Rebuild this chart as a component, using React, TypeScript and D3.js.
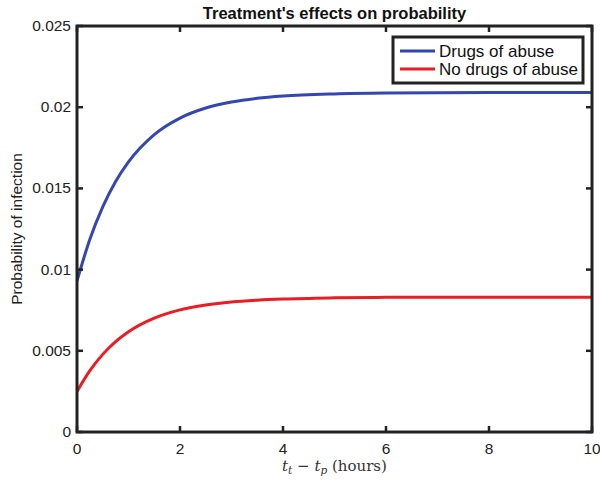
import React from "react";
import * as d3 from "d3";

const timeHours = [0, 0.25, 0.5, 0.75, 1, 1.5, 2, 2.5, 3, 3.5, 4, 5, 6, 8, 10];
const drugsOfAbuse = [0.0093, 0.01187, 0.01386, 0.01542, 0.01663, 0.01831, 0.01933, 0.01995, 0.02032, 0.02055, 0.02069, 0.02082, 0.02087, 0.0209, 0.0209];
const noDrugsOfAbuse = [0.0025, 0.00378, 0.00478, 0.00556, 0.00617, 0.00701, 0.00752, 0.00782, 0.00801, 0.00812, 0.00819, 0.00826, 0.00829, 0.0083, 0.0083];
const xTicks = [0, 2, 4, 6, 8, 10];
const yTicks = [0, 0.005, 0.01, 0.015, 0.02, 0.025];
const yTickLabels = ["0", "0.005", "0.01", "0.015", "0.02", "0.025"];
const seriesNames = ["Drugs of abuse", "No drugs of abuse"];
const seriesColors = ["#3446b0", "#ea1c24"];

const W = 600, H = 481;
const L = 77, R = 592, T = 26, B = 432;

export default function App() {
  const x = d3.scaleLinear().domain([0, 10]).range([L, R]);
  const y = d3.scaleLinear().domain([0, 0.025]).range([B, T]);
  const line = d3
    .line<[number, number]>()
    .x((d) => x(d[0]))
    .y((d) => y(d[1]))
    .curve(d3.curveMonotoneX);
  const series = [drugsOfAbuse, noDrugsOfAbuse];
  const font = "'Liberation Sans', Arial, Helvetica, sans-serif";
  const tickLen = 6;
  return (
    <svg width={W} height={H} style={{ position: "absolute", left: 0, top: 0, background: "#fff" }} fontFamily={font}>
      <rect x={0} y={0} width={W} height={H} fill="#fff" />
      <defs>
        <clipPath id="plot">
          <rect x={L} y={T} width={R - L} height={B - T} />
        </clipPath>
      </defs>
      {series.map((vals, i) => (
        <path
          key={i}
          d={line(timeHours.map((t, j) => [t, vals[j]] as [number, number])) || ""}
          fill="none"
          stroke={seriesColors[i]}
          strokeWidth={3}
          clipPath="url(#plot)"
        />
      ))}
      {xTicks.map((t) => (
        <g key={"x" + t}>
          <line x1={x(t)} x2={x(t)} y1={B} y2={B - tickLen} stroke="#222" strokeWidth={2.5} />
          <line x1={x(t)} x2={x(t)} y1={T} y2={T + tickLen} stroke="#222" strokeWidth={2.5} />
          <text x={x(t)} y={B + 22} textAnchor="middle" fontSize={15.5} fill="#222">
            {t}
          </text>
        </g>
      ))}
      {yTicks.map((v, i) => (
        <g key={"y" + i}>
          <line x1={L} x2={L + tickLen} y1={y(v)} y2={y(v)} stroke="#222" strokeWidth={2.5} />
          <line x1={R} x2={R - tickLen} y1={y(v)} y2={y(v)} stroke="#222" strokeWidth={2.5} />
          <text x={L - 6} y={y(v) + 5} textAnchor="end" fontSize={15.5} fill="#222">
            {yTickLabels[i]}
          </text>
        </g>
      ))}
      <rect x={L} y={T} width={R - L} height={B - T} fill="none" stroke="#222" strokeWidth={3} />
      <text x={(L + R) / 2} y={19} textAnchor="middle" fontSize={16.5} fontWeight="bold" fill="#111">
        Treatment's effects on probability
      </text>
      <text
        transform={`translate(22,${(T + B) / 2}) rotate(-90)`}
        textAnchor="middle"
        fontSize={15.5}
        fill="#222"
      >
        Probability of infection
      </text>
      <text x={(L + R) / 2} y={471} textAnchor="middle" fontSize={15} fill="#333" fontFamily="'DejaVu Serif', 'Liberation Serif', serif">
        <tspan fontStyle="italic">t</tspan>
        <tspan fontStyle="italic" fontSize={10.5} dy={3}>t</tspan>
        <tspan dy={-3}> − </tspan>
        <tspan fontStyle="italic">t</tspan>
        <tspan fontStyle="italic" fontSize={10.5} dy={3}>p</tspan>
        <tspan dy={-3}> (hours)</tspan>
      </text>
      <g>
        <rect x={393} y={37} width={190} height={46} fill="#fff" stroke="#222" strokeWidth={3} />
        {seriesNames.map((n, i) => (
          <g key={n}>
            <line x1={400} x2={435} y1={51 + i * 18} y2={51 + i * 18} stroke={seriesColors[i]} strokeWidth={3} />
            <text x={439} y={57 + i * 18} fontSize={17} fill="#111">
              {n}
            </text>
          </g>
        ))}
      </g>
    </svg>
  );
}
